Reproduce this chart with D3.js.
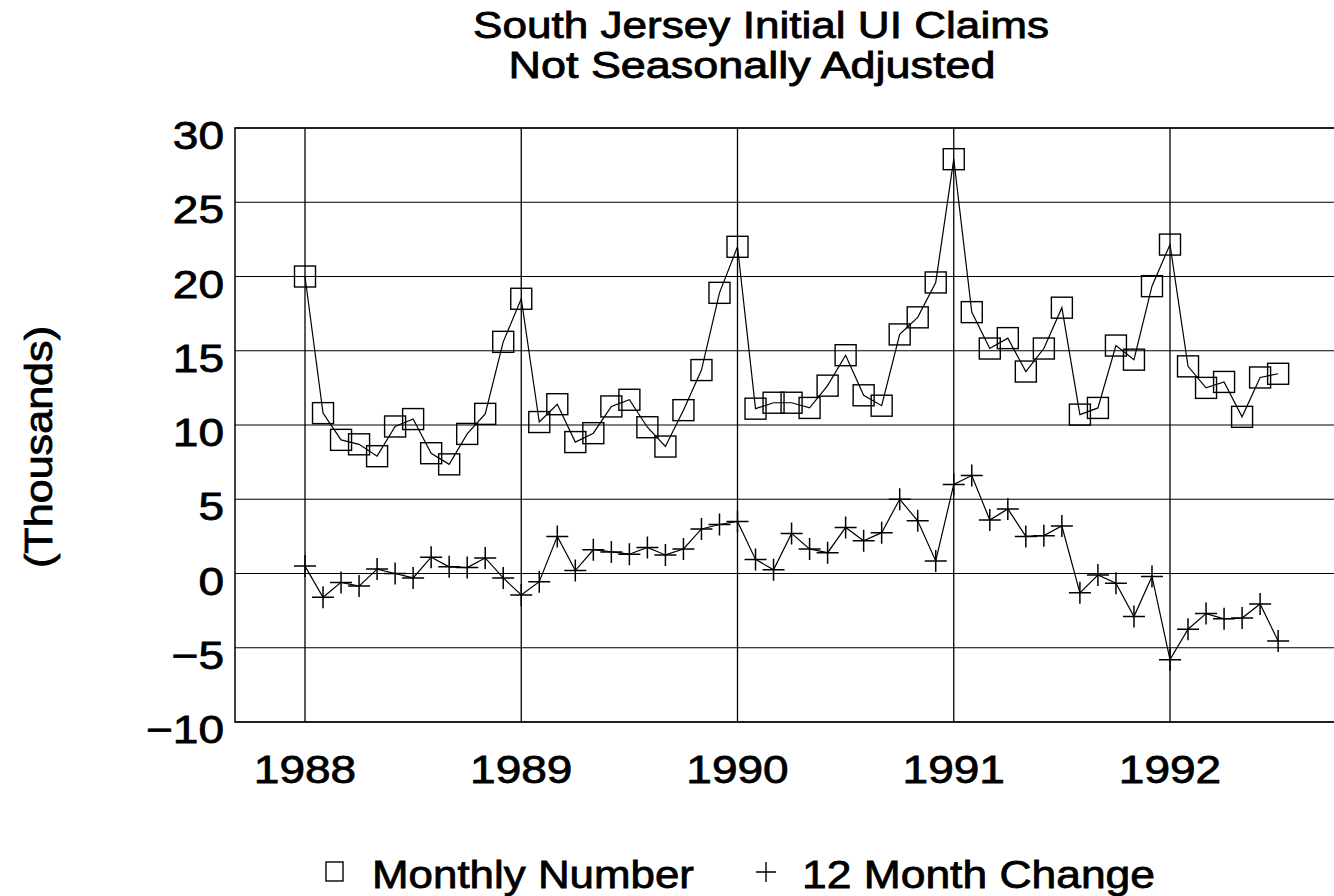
<!DOCTYPE html>
<html>
<head>
<meta charset="utf-8">
<script src="https://cdn.jsdelivr.net/npm/d3@7"></script>
<style>
  html, body { margin: 0; padding: 0; background: #fff; }
  svg { display: block; }
  text { font-family: "Liberation Sans", Arial, Helvetica, sans-serif; fill: #000; stroke: #000; stroke-width: 0.8px; }
</style>
</head>
<body>
<svg id="chart" width="1334" height="896"></svg>
<script>
// ---- data ----
const years = [1988, 1989, 1990, 1991, 1992];
const yearLabels = ["1988", "1989", "1990", "1991", "1992"];
const yTicks = [30, 25, 20, 15, 10, 5, 0, -5, -10];
const yTickLabels = ["30", "25", "20", "15", "10", "5", "0", "\u22125", "\u221210"];

// Monthly Number (thousands), Jan 1988 .. Jul 1992
const monthlyNumber = [
  20.0, 10.8, 9.0, 8.7, 7.9, 9.9, 10.4, 8.1, 7.35, 9.4, 10.75, 15.6,
  18.5, 10.2, 11.4, 8.85, 9.45, 11.25, 11.7, 9.85, 8.55, 11.0, 13.7, 18.9,
  22.0, 11.1, 11.5, 11.5, 11.15, 12.65, 14.7, 12.0, 11.3, 16.1, 17.25, 19.6,
  27.9, 17.6, 15.15, 15.85, 13.6, 15.15, 17.9, 10.7, 11.15, 15.35, 14.4, 19.35,
  22.15, 13.95, 12.5, 12.9, 10.55, 13.2, 13.45
];
// 12 Month Change (thousands)
const monthChange12 = [
  0.5, -1.6, -0.6, -0.85, 0.3, 0.0, -0.3, 1.1, 0.45, 0.4, 1.05, -0.3,
  -1.45, -0.55, 2.5, 0.2, 1.6, 1.45, 1.3, 1.75, 1.25, 1.65, 3.0, 3.3,
  3.5, 0.95, 0.25, 2.7, 1.65, 1.4, 3.1, 2.2, 2.75, 5.0, 3.55, 0.85,
  6.0, 6.6, 3.6, 4.35, 2.5, 2.55, 3.2, -1.3, -0.1, -0.65, -2.9, -0.2,
  -5.8, -3.75, -2.7, -3.05, -3.0, -2.05, -4.55
];
const startYear = 1988;
const titleLines = ["South Jersey Initial UI Claims", "Not Seasonally Adjusted"];
const yAxisTitle = "(Thousands)";
const legendLabels = ["Monthly Number", "12 Month Change"];

// ---- layout ----
const svg = d3.select("#chart");
const plotLeft = 235, plotTop = 128, plotBottom = 722, plotRight = 1340;

const x = d3.scaleLinear().domain([1988, 1992]).range([305, 1170]);
const y = d3.scaleLinear().domain([-10, 30]).range([plotBottom, plotTop]);

const tOf = i => startYear + i / 12;

// gridlines
const grid = svg.append("g");
grid.selectAll("line.h").data(yTicks).join("line")
  .attr("x1", plotLeft).attr("x2", plotRight)
  .attr("y1", d => y(d)).attr("y2", d => y(d))
  .attr("stroke", "#000").attr("stroke-width", 1.1);
grid.selectAll("line.v").data(years).join("line")
  .attr("x1", d => x(d)).attr("x2", d => x(d))
  .attr("y1", plotTop).attr("y2", plotBottom)
  .attr("stroke", "#000").attr("stroke-width", 1.3);
// frame (left, top, bottom)
svg.append("path")
  .attr("d", `M${plotRight},${plotTop}H${plotLeft}V${plotBottom}H${plotRight}`)
  .attr("fill", "none").attr("stroke", "#000").attr("stroke-width", 1.5);

// y tick labels (source type is slightly wide)
const sx = 1.18;
yTicks.forEach((v, i) => {
  svg.append("text")
    .attr("transform", `translate(224,${y(v) + 21}) scale(${sx},1)`)
    .attr("text-anchor", "end")
    .attr("font-size", 39)
    .text(yTickLabels[i]);
});
// x tick labels
years.forEach((v, i) => {
  svg.append("text")
    .attr("transform", `translate(${x(v)},783) scale(${sx},1)`)
    .attr("text-anchor", "middle")
    .attr("font-size", 39)
    .text(yearLabels[i]);
});

// title
svg.append("text").attr("x", 761).attr("y", 38).attr("text-anchor", "middle")
  .attr("font-size", 36).attr("textLength", 576).attr("lengthAdjust", "spacingAndGlyphs")
  .text(titleLines[0]);
svg.append("text").attr("x", 752).attr("y", 78).attr("text-anchor", "middle")
  .attr("font-size", 36).attr("textLength", 487).attr("lengthAdjust", "spacingAndGlyphs")
  .text(titleLines[1]);

// y axis title
svg.append("text")
  .attr("transform", "translate(52,447) rotate(-90)")
  .attr("text-anchor", "middle")
  .attr("font-size", 38).attr("textLength", 242).attr("lengthAdjust", "spacingAndGlyphs")
  .text(yAxisTitle);

// series lines
const line = d3.line().x((d, i) => x(tOf(i))).y(d => y(d));
svg.append("path").datum(monthlyNumber).attr("d", line)
  .attr("fill", "none").attr("stroke", "#000").attr("stroke-width", 1.2);
svg.append("path").datum(monthChange12).attr("d", line)
  .attr("fill", "none").attr("stroke", "#000").attr("stroke-width", 1.2);

// square markers
const sq = 21;
svg.append("g").selectAll("rect").data(monthlyNumber).join("rect")
  .attr("x", (d, i) => x(tOf(i)) - sq / 2)
  .attr("y", d => y(d) - sq / 2)
  .attr("width", sq).attr("height", sq)
  .attr("fill", "none").attr("stroke", "#000").attr("stroke-width", 1.4);

// plus markers
const ph = 11;
svg.append("g").selectAll("path").data(monthChange12).join("path")
  .attr("d", (d, i) => {
    const cx = x(tOf(i)), cy = y(d);
    return `M${cx - ph},${cy}H${cx + ph}M${cx},${cy - ph}V${cy + ph}`;
  })
  .attr("fill", "none").attr("stroke", "#000").attr("stroke-width", 1.5);

// legend
const lg = svg.append("g");
lg.append("rect").attr("x", 326).attr("y", 862).attr("width", 17).attr("height", 19)
  .attr("fill", "none").attr("stroke", "#000").attr("stroke-width", 1.4);
lg.append("text").attr("x", 372).attr("y", 888).attr("font-size", 39)
  .attr("textLength", 322).attr("lengthAdjust", "spacingAndGlyphs").text(legendLabels[0]);
lg.append("path").attr("d", "M756,872H776M766,862V882")
  .attr("stroke", "#000").attr("stroke-width", 1.4);
lg.append("text").attr("x", 802).attr("y", 888).attr("font-size", 39)
  .attr("textLength", 353).attr("lengthAdjust", "spacingAndGlyphs").text(legendLabels[1]);
</script>
</body>
</html>
